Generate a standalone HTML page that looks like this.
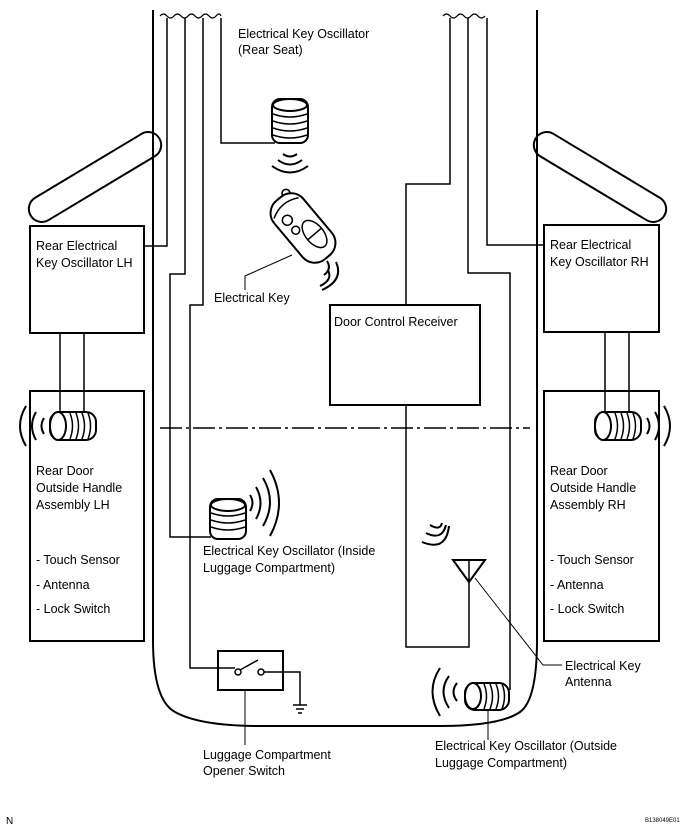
<!DOCTYPE html>
<html><head><meta charset="utf-8"><style>
html,body{margin:0;padding:0;background:#fff;}
svg{display:block;}
text{font-family:"Liberation Sans",Arial,sans-serif;font-size:12.5px;fill:#000;}
</style></head><body>
<svg width="694" height="833" viewBox="0 0 694 833" xmlns="http://www.w3.org/2000/svg">
<g fill="none" stroke="#000" stroke-width="1.5">
<!-- body outline -->
<path d="M153 10 V640 Q153 700 175 712 Q200 726 260 726 H440 Q500 726 520 712 Q537 700 537 640 V10" stroke-width="2"/>
<!-- left wires -->
<path d="M167 18 V246 H144"/>
<path d="M185 18 V274 H170 V537 H211"/>
<path d="M203 18 V305 H190 V668 H218"/>
<path d="M221 18 V143 H275"/>
<path d="M160 16 q3.5 -4 7 0 q3.5 4 7 0 q3.5-4 7 0 q3.5 4 7 0 q3.5-4 7 0 q3.5 4 7 0 q3.5-4 7 0 q3.5 4 7 0 q3.5-4 5 0" stroke-width="1.2"/>
<!-- right wires -->
<path d="M450 18 V184 H406 V305"/>
<path d="M406 405 V647 H469 V582"/>
<path d="M468 18 V273 H510 V690"/>
<path d="M487 18 V245 H544"/>
<path d="M443 16 q3.5 -4 7 0 q3.5 4 7 0 q3.5-4 7 0 q3.5 4 7 0 q3.5-4 7 0 q3.5 4 7 0" stroke-width="1.2"/>
<!-- boxes -->
<rect x="30" y="226" width="114" height="107" stroke-width="2"/>
<rect x="544" y="225" width="115" height="107" stroke-width="2"/>
<rect x="30" y="391" width="114" height="250" stroke-width="2"/>
<rect x="544" y="391" width="115" height="250" stroke-width="2"/>
<rect x="330" y="305" width="150" height="100" stroke-width="2"/>
<!-- handles -->
<g transform="translate(95,177) rotate(-31)"><rect x="-75" y="-13" width="150" height="26" rx="13" stroke-width="2"/></g>
<g transform="translate(600,177) rotate(31)"><rect x="-75" y="-13" width="150" height="26" rx="13" stroke-width="2"/></g>
<!-- box to coil -->
<path d="M60 333 V415 M84 333 V415 M605 332 V415 M629 332 V415"/>
<!-- dash dot -->
<path d="M160 428 H530" stroke-dasharray="22 4 3 4"/>
<!-- LH door coil -->
<rect x="50" y="412" width="46" height="28" rx="10" fill="#fff" stroke-width="2"/>
<ellipse cx="58" cy="426" rx="8" ry="14" fill="#fff" stroke-width="2"/>
<path d="M70 413 q5 13 0 26 M76 413 q5 13 0 26 M82 413 q5 13 0 26 M88 413 q5 13 0 26"/>
<path d="M44 418 q-5 8 0 16 M36 412 q-8 14 0 28 M26 406 q-12 20 0 40" stroke-width="2"/>
<!-- RH door coil -->
<rect x="595" y="412" width="46" height="28" rx="10" fill="#fff" stroke-width="2"/>
<ellipse cx="603" cy="426" rx="8" ry="14" fill="#fff" stroke-width="2"/>
<path d="M615 413 q5 13 0 26 M621 413 q5 13 0 26 M627 413 q5 13 0 26 M633 413 q5 13 0 26"/>
<path d="M647 418 q5 8 0 16 M655 412 q8 14 0 28 M664 406 q12 20 0 40" stroke-width="2"/>
<!-- rear seat coil (vertical) -->
<rect x="272" y="99" width="36" height="44" rx="8" fill="#fff" stroke-width="2"/>
<ellipse cx="290" cy="105" rx="17" ry="6" fill="#fff" stroke-width="2"/>
<path d="M273 114 q17 6 34 0 M273 121 q17 6 34 0 M273 128 q17 6 34 0 M273 135 q17 6 34 0"/>
<path d="M283 154 q7 5 14 0 M278 160 q12 9 24 0 M272 166 q18 13 36 0" stroke-width="2"/>
<!-- inside luggage coil -->
<rect x="210" y="499" width="36" height="40" rx="8" fill="#fff" stroke-width="2"/>
<ellipse cx="228" cy="505" rx="17" ry="6" fill="#fff" stroke-width="2"/>
<path d="M211 513 q17 6 34 0 M211 520 q17 6 34 0 M211 527 q17 6 34 0"/>
<path d="M250 495 q5 8 0 16 M256 487 q9 16 0 32 M263 478 q14 24 0 48 M270 470 q18 33 0 66" stroke-width="2"/>
<!-- key fob -->
<g transform="translate(303,228) rotate(-40)">
<rect x="-19" y="-38" width="38" height="76" rx="16" fill="#fff" stroke-width="2"/>
<path d="M-16 -26 q16 -9 32 0"/>
<circle cx="-7" cy="-16" r="5"/><circle cx="-7" cy="-3" r="4"/>
<ellipse cx="5" cy="12" rx="9" ry="16"/>
<path d="M-4 12 H14"/>
</g>
<path d="M283 196 a4 4 0 1 1 7 -3"/>
<path d="M327 261 q5 8 -3 14 M328 270 q5 10 -8 16 M336 262 q8 18 -14 28" stroke-width="2"/>
<!-- key leader -->
<path d="M245 290 V276 L292 255" stroke-width="1"/>
<!-- antenna -->
<path d="M453 560 H485 L469 582 Z" stroke-width="2"/>
<path d="M469 560 V582"/>
<path d="M430 525 q10 6 12 -2 M426 533 q16 8 20 -8 M422 542 q24 10 27 -16" stroke-width="2"/>
<path d="M475 578 L543 665 H562" stroke-width="1"/>
<!-- outside coil -->
<rect x="465" y="683" width="44" height="27" rx="10" fill="#fff" stroke-width="2"/>
<ellipse cx="473" cy="696" rx="8" ry="13" fill="#fff" stroke-width="2"/>
<path d="M484 684 q5 12 0 25 M490 684 q5 12 0 25 M496 684 q5 12 0 25 M502 684 q5 12 0 25"/>
<path d="M457 683 q-7 9 0 18 M449 676 q-11 15 0 32 M440 668 q-15 23 0 48" stroke-width="2"/>
<path d="M488 710 V740" stroke-width="1"/>
<!-- switch -->
<rect x="218" y="651" width="65" height="39" stroke-width="2"/>
<circle cx="238" cy="672" r="3"/><circle cx="261" cy="672" r="3"/>
<path d="M240 670 L258 660"/>
<path d="M218 668 H235 M264 672 H300 V705"/>
<path d="M293 705 H307 M296 709 H304 M298 713 H302"/>
<path d="M245 690 V745" stroke-width="1"/>
</g>
<text x="238" y="38">Electrical Key Oscillator</text>
<text x="238" y="54">(Rear Seat)</text>
<text x="36" y="250">Rear Electrical</text>
<text x="36" y="267">Key Oscillator LH</text>
<text x="550" y="249">Rear Electrical</text>
<text x="550" y="266">Key Oscillator RH</text>
<text x="214" y="302">Electrical Key</text>
<text x="334" y="326">Door Control Receiver</text>
<text x="36" y="475">Rear Door</text>
<text x="36" y="492">Outside Handle</text>
<text x="36" y="509">Assembly LH</text>
<text x="36" y="564">- Touch Sensor</text>
<text x="36" y="589">- Antenna</text>
<text x="36" y="613">- Lock Switch</text>
<text x="550" y="475">Rear Door</text>
<text x="550" y="492">Outside Handle</text>
<text x="550" y="509">Assembly RH</text>
<text x="550" y="564">- Touch Sensor</text>
<text x="550" y="589">- Antenna</text>
<text x="550" y="613">- Lock Switch</text>
<text x="203" y="555">Electrical Key Oscillator (Inside</text>
<text x="203" y="572">Luggage Compartment)</text>
<text x="565" y="670">Electrical Key</text>
<text x="565" y="686">Antenna</text>
<text x="203" y="759">Luggage Compartment</text>
<text x="203" y="775">Opener Switch</text>
<text x="435" y="750">Electrical Key Oscillator (Outside</text>
<text x="435" y="767">Luggage Compartment)</text>
<text x="6" y="824" style="font-size:10px">N</text>
<text x="645" y="822" style="font-size:6px">B138049E01</text>
</svg>
</body></html>
